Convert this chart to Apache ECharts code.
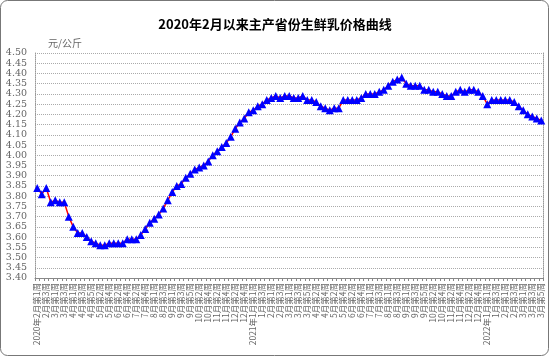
<!DOCTYPE html>
<html><head><meta charset="utf-8">
<script src="https://cdn.jsdelivr.net/npm/echarts@6/dist/echarts.min.js"></script>
<style>html,body{margin:0;padding:0;background:#fff}#c{width:550px;height:357px}</style>
</head><body><div id="c"></div>
<script>
var titleText = '2020年2月以来主产省份生鲜乳价格曲线';
var unitText = '元/公斤';
var categories = [
 '2020年2月第1周','2月第2周','2月第3周','2月第4周',
 '3月第1周','3月第2周','3月第3周','3月第4周',
 '4月第1周','4月第2周','4月第3周','4月第4周','4月第5周',
 '5月第1周','5月第2周','5月第3周','5月第4周',
 '6月第1周','6月第2周','6月第3周','6月第4周',
 '7月第1周','7月第2周','7月第3周','7月第4周','7月第5周',
 '8月第1周','8月第2周','8月第3周','8月第4周',
 '9月第1周','9月第2周','9月第3周','9月第4周','9月第5周',
 '10月第1周','10月第2周','10月第3周','10月第4周',
 '11月第1周','11月第2周','11月第3周','11月第4周',
 '12月第1周','12月第2周','12月第3周','12月第4周','12月第5周',
 '2021年1月第1周','1月第2周','1月第3周','1月第4周',
 '2月第1周','2月第2周','2月第3周','2月第4周',
 '3月第1周','3月第2周','3月第3周','3月第4周','3月第5周',
 '4月第1周','4月第2周','4月第3周','4月第4周',
 '5月第1周','5月第2周','5月第3周','5月第4周',
 '6月第1周','6月第2周','6月第3周','6月第4周','6月第5周',
 '7月第1周','7月第2周','7月第3周','7月第4周',
 '8月第1周','8月第2周','8月第3周','8月第4周',
 '9月第1周','9月第2周','9月第3周','9月第4周','9月第5周',
 '10月第1周','10月第2周','10月第3周','10月第4周',
 '11月第1周','11月第2周','11月第3周','11月第4周',
 '12月第1周','12月第2周','12月第3周','12月第4周','12月第5周',
 '2022年1月第1周','1月第2周','1月第3周','1月第4周',
 '2月第1周','2月第2周','2月第3周','2月第4周',
 '3月第1周','3月第2周','3月第3周','3月第4周','3月第5周'
];
var prices = [
 3.84,3.81,3.84,3.77,3.78,3.77,3.77,3.70,3.65,3.62,
 3.62,3.60,3.58,3.57,3.56,3.56,3.57,3.57,3.57,3.57,
 3.59,3.59,3.59,3.61,3.64,3.67,3.69,3.71,3.74,3.78,
 3.82,3.85,3.86,3.89,3.91,3.93,3.94,3.95,3.97,4.00,
 4.02,4.04,4.06,4.09,4.13,4.16,4.18,4.21,4.22,4.24,
 4.25,4.27,4.28,4.29,4.28,4.29,4.29,4.28,4.28,4.29,
 4.27,4.27,4.26,4.24,4.23,4.22,4.23,4.23,4.27,4.27,
 4.27,4.27,4.28,4.30,4.30,4.30,4.31,4.32,4.34,4.36,
 4.37,4.38,4.35,4.34,4.34,4.34,4.32,4.32,4.31,4.31,
 4.30,4.29,4.29,4.31,4.32,4.31,4.32,4.32,4.31,4.29,
 4.25,4.27,4.27,4.27,4.27,4.27,4.26,4.24,4.22,4.20,
 4.19,4.18,4.17
];
var yMin = 3.40, yMax = 4.50, yStep = 0.05;

var chart = echarts.init(document.getElementById('c'), null, {renderer:'canvas'});
chart.setOption({
  animation: false,
  backgroundColor: '#fff',
  title: {
    text: titleText, left: 'center', top: 13,
    textStyle: {fontFamily: 'Noto Sans CJK SC', fontSize: 13, fontWeight: 'bold', color: '#000'}
  },
  graphic: [{
    type: 'rect', shape: {x: 0.5, y: 0.5, width: 548, height: 355, r: 7},
    style: {fill: 'none', stroke: '#777', lineWidth: 1}, silent: true, z: 100
  }],
  grid: {left: 35, right: 6.5, top: 53, bottom: 79},
  xAxis: {
    type: 'category', data: categories, boundaryGap: true,
    axisLine: {lineStyle: {color: '#888', width: 1}},
    axisTick: {show: true, interval: 0, length: 3, lineStyle: {color: '#888'}},
    axisLabel: {
      interval: 1, rotate: 90, margin: 5,
      fontFamily: 'Noto Sans CJK SC', fontSize: 8.5, color: '#666'
    },
    splitLine: {show: false}
  },
  yAxis: [{
    type: 'value', min: yMin, max: yMax, interval: yStep,
    name: unitText, nameLocation: 'end', nameGap: 5,
    nameTextStyle: {align: 'left', verticalAlign: 'bottom', padding: [0, 0, 0, 13],
      fontFamily: 'Noto Sans CJK SC', fontSize: 10, color: '#666'},
    axisLine: {show: true, lineStyle: {color: '#999', type: 'dotted'}},
    axisTick: {show: false},
    axisLabel: {margin: 8, fontFamily: 'DejaVu Serif', fontSize: 9.5, color: '#666',
      formatter: function (v) { return v.toFixed(2); }},
    splitLine: {show: true, lineStyle: {color: '#aaa', type: 'dotted', width: 1}}
  }, {
    type: 'value', min: yMin, max: yMax, interval: yStep, position: 'right',
    axisLine: {show: true, lineStyle: {color: '#999', type: 'dotted'}},
    axisTick: {show: false}, axisLabel: {show: false}, splitLine: {show: false}
  }],
  series: [{
    type: 'line', data: prices, yAxisIndex: 0,
    symbol: 'triangle', symbolSize: 8, showAllSymbol: true,
    lineStyle: {color: '#ff0000', width: 1.5},
    itemStyle: {color: '#0000ff', borderWidth: 0}
  }]
});
</script></body></html>
